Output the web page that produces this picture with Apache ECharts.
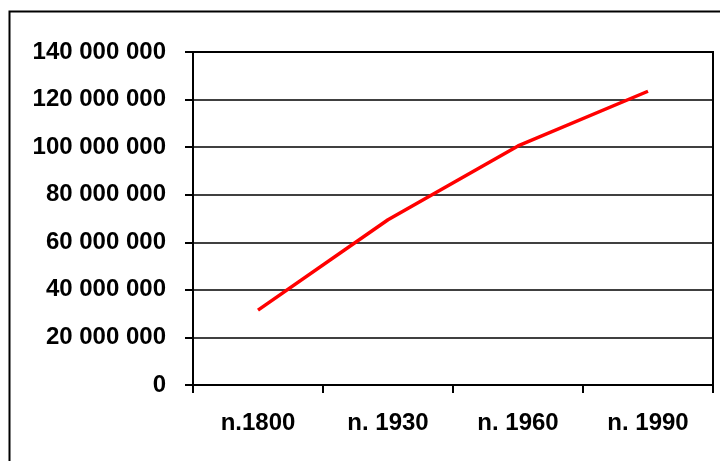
<!DOCTYPE html>
<html>
<head>
<meta charset="utf-8">
<script src="https://cdn.jsdelivr.net/npm/echarts@6/dist/echarts.min.js"></script>
<style>
  html, body { margin: 0; padding: 0; background: #fff; }
  #chart { width: 720px; height: 461px; }
</style>
</head>
<body>
<div id="chart"></div>
<script>
// Population by period
const categories = ['n.1800', 'n. 1930', 'n. 1960', 'n. 1990'];
const population = [31500000, 69500000, 100500000, 123500000];
const yMin = 0;
const yMax = 140000000;
const yStep = 20000000;

// Thousands separated by spaces: 140 000 000
function spaced(v) {
  return String(Math.round(v)).replace(/\B(?=(\d{3})+(?!\d))/g, ' ');
}

const labelFont = {
  fontFamily: '"Liberation Sans", Arial, sans-serif',
  fontWeight: 'bold',
  fontSize: 24,
  color: '#000'
};

const chart = echarts.init(document.getElementById('chart'), null, { renderer: 'canvas' });
chart.setOption({
  animation: false,
  backgroundColor: '#fff',
  graphic: [{
    type: 'rect',
    left: 7, top: 9,
    shape: { x: 0, y: 0, width: 760, height: 500 },
    style: { fill: 'none', stroke: '#000', lineWidth: 2 },
    z: -1
  }],
  grid: {
    left: 193, right: 7, top: 52, bottom: 76,
    show: true,
    borderColor: '#000',
    borderWidth: 2,
    containLabel: false
  },
  xAxis: {
    type: 'category',
    data: categories,
    boundaryGap: true,
    axisLine: { lineStyle: { color: '#000', width: 2 } },
    axisTick: { show: true, length: 8, lineStyle: { color: '#000', width: 2 } },
    axisLabel: Object.assign({ margin: 26 }, labelFont),
    splitLine: { show: false }
  },
  yAxis: {
    type: 'value',
    min: yMin, max: yMax, interval: yStep,
    axisLine: { show: true, lineStyle: { color: '#000', width: 2 } },
    axisTick: { show: true, length: 8, lineStyle: { color: '#000', width: 2 } },
    axisLabel: Object.assign({ margin: 27, formatter: spaced }, labelFont),
    splitLine: { show: true, lineStyle: { color: '#000', width: 1.5 } }
  },
  series: [{
    type: 'line',
    data: population,
    showSymbol: false,
    symbol: 'none',
    lineStyle: { color: '#ff0000', width: 3.5 },
    z: 5
  }]
});
</script>
</body>
</html>
